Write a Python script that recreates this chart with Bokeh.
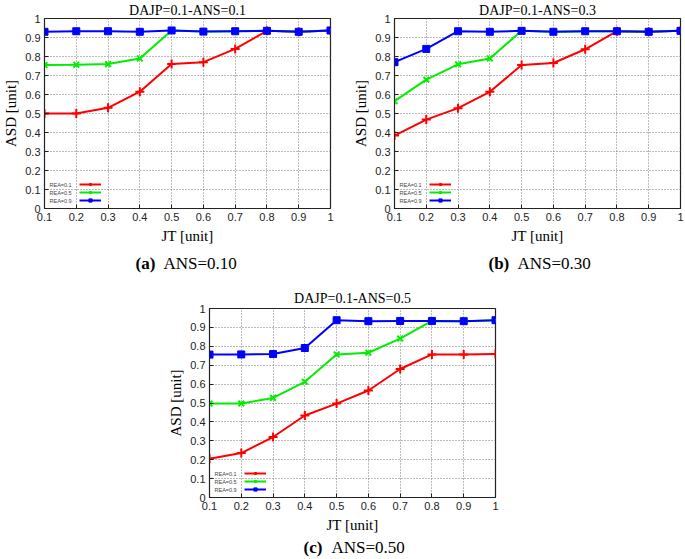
from bokeh.plotting import figure
from bokeh.models import Range1d, FixedTicker, Label, Legend, LegendItem, Spacer
from bokeh.layouts import column, row
from bokeh.core.properties import value
from bokeh.embed import file_html
from bokeh.resources import INLINE

# ---------------- data ----------------
jt = [0.1, 0.2, 0.3, 0.4, 0.5, 0.6, 0.7, 0.8, 0.9, 1.0]
x_ticks = [0.1, 0.2, 0.3, 0.4, 0.5, 0.6, 0.7, 0.8, 0.9, 1.0]
x_tick_labels = ["0.1", "0.2", "0.3", "0.4", "0.5", "0.6", "0.7", "0.8", "0.9", "1"]
y_ticks = [0.0, 0.1, 0.2, 0.3, 0.4, 0.5, 0.6, 0.7, 0.8, 0.9, 1.0]
y_tick_labels = ["0", "0.1", "0.2", "0.3", "0.4", "0.5", "0.6", "0.7", "0.8", "0.9", "1"]

titles = ["DAJP=0.1-ANS=0.1", "DAJP=0.1-ANS=0.3", "DAJP=0.1-ANS=0.5"]
caption_tags = ["(a)", "(b)", "(c)"]
caption_texts = ["ANS=0.10", "ANS=0.30", "ANS=0.50"]
series_names = ["REA=0.1", "REA=0.5", "REA=0.9"]
x_label = "JT [unit]"
y_label = "ASD [unit]"

a_rea01 = [0.50, 0.50, 0.53, 0.615, 0.76, 0.77, 0.84, 0.935, 0.93, 0.937]
a_rea05 = [0.755, 0.757, 0.76, 0.79, 0.937, 0.931, 0.933, 0.935, 0.93, 0.937]
a_rea09 = [0.93, 0.933, 0.933, 0.93, 0.937, 0.931, 0.933, 0.935, 0.93, 0.937]

b_rea01 = [0.384, 0.468, 0.528, 0.614, 0.755, 0.766, 0.838, 0.933, 0.93, 0.935]
b_rea05 = [0.565, 0.678, 0.759, 0.79, 0.935, 0.93, 0.933, 0.933, 0.93, 0.935]
b_rea09 = [0.77, 0.84, 0.933, 0.93, 0.935, 0.93, 0.933, 0.933, 0.93, 0.935]

c_rea01 = [0.205, 0.235, 0.32, 0.434, 0.497, 0.566, 0.68, 0.757, 0.756, 0.759]
c_rea05 = [0.497, 0.497, 0.527, 0.612, 0.757, 0.766, 0.841, 0.934, 0.933, 0.938]
c_rea09 = [0.756, 0.757, 0.759, 0.791, 0.938, 0.933, 0.934, 0.934, 0.933, 0.938]

# ---------------- styles ----------------
COLORS = ["#ff0000", "#00ee00", "#0000ff"]
MARKERS = ["cross", "x", "square"]
MSIZES = [9, 8, 7]
SERIF = "Liberation Serif"
SANS = "Liberation Sans"


def make_panel(title, series, width, height, bl, br, bt, bb, title_standoff):
    p = figure(width=width, height=height, output_backend="svg",
               toolbar_location=None, x_range=Range1d(0.1, 1.0),
               y_range=Range1d(0.0, 1.0),
               min_border_left=bl, min_border_right=br,
               min_border_top=bt, min_border_bottom=bb,
               title=title)
    p.title.text_font = SERIF
    p.title.text_font_size = "14px"
    p.title.text_font_style = "normal"
    p.title.text_color = "black"
    p.title.align = "center"
    p.title.standoff = title_standoff
    p.background_fill_color = "white"
    p.border_fill_color = "white"
    p.outline_line_color = "#222222"
    p.outline_line_width = 1.2

    p.xaxis.ticker = FixedTicker(ticks=x_ticks, minor_ticks=[])
    p.yaxis.ticker = FixedTicker(ticks=y_ticks, minor_ticks=[])
    p.xaxis.major_label_overrides = dict(zip(x_ticks, x_tick_labels))
    p.yaxis.major_label_overrides = dict(zip(y_ticks, y_tick_labels))
    p.xaxis.axis_label = x_label
    p.yaxis.axis_label = y_label
    for ax in (p.xaxis, p.yaxis):
        ax.major_tick_in = 4
        ax.major_tick_out = 0
        ax.minor_tick_line_color = None
        ax.axis_line_color = "#222222"
        ax.major_tick_line_color = "#222222"
        ax.major_label_text_font = SANS
        ax.major_label_text_font_size = "11px"
        ax.major_label_text_color = "#222222"
        ax.major_label_standoff = 4
        ax.axis_label_text_font = SERIF
        ax.axis_label_text_font_size = "15px"
        ax.axis_label_text_font_style = "normal"
        ax.axis_label_text_color = "black"
    p.xaxis.axis_label_standoff = 4
    p.yaxis.axis_label_standoff = 3

    p.grid.grid_line_color = "#777777"
    p.grid.grid_line_dash = "1 2"
    p.grid.grid_line_width = 1
    p.xgrid.ticker = FixedTicker(ticks=x_ticks)
    p.ygrid.ticker = FixedTicker(ticks=y_ticks)

    items = []
    for name, ys, col, mk, ms in zip(series_names, series, COLORS, MARKERS, MSIZES):
        r_line = p.line(jt, ys, line_color=col, line_width=2)
        if mk == "square":
            r_pt = p.scatter(jt, ys, marker=mk, size=ms, fill_color=col,
                             line_color=col, line_width=1)
        else:
            r_pt = p.scatter(jt, ys, marker=mk, size=ms, line_color=col,
                             line_width=2)
        items.append(LegendItem(label=name, renderers=[r_line, r_pt]))

    leg = Legend(items=items, location=(35, 4), orientation="vertical",
                 padding=0, margin=0, spacing=0, glyph_height=8, glyph_width=22,
                 label_height=8, label_width=0, label_standoff=0,
                 label_text_font_size="5px", label_text_alpha=0,
                 background_fill_alpha=0, border_line_alpha=0)
    p.add_layout(leg)

    for i, name in enumerate(series_names):
        p.add_layout(Label(x=0.1, y=0.0, x_offset=5, y_offset=8 + (2 - i) * 8,
                           text=name, text_font=SANS, text_font_size="5.5px",
                           text_color="#444444", text_baseline="middle",
                           text_align="left"))
    return p


def make_caption(width, height, entries):
    c = figure(width=width, height=height, output_backend="svg",
               toolbar_location=None, x_range=Range1d(0, width),
               y_range=Range1d(0, height), min_border=0)
    c.axis.visible = False
    c.grid.visible = False
    c.outline_line_color = None
    c.background_fill_color = "white"
    c.border_fill_color = "white"
    for tag, txt, x_tag, x_txt, yc in entries:
        c.text(x=[x_tag], y=[yc], text=[tag], text_font=value(SERIF),
               text_font_size="17px", text_font_style="bold", text_color="black",
               text_align="left", text_baseline="middle")
        c.text(x=[x_txt], y=[yc], text=[txt], text_font=value(SERIF),
               text_font_size="17px", text_color="black",
               text_align="left", text_baseline="middle")
    return c


p1 = make_panel(titles[0], [a_rea01, a_rea05, a_rea09], 340, 250, 43, 10, 18, 42, 1)
p2 = make_panel(titles[1], [b_rea01, b_rea05, b_rea09], 345, 250, 54, 5, 18, 42, 1)
p3 = make_panel(titles[2], [c_rea01, c_rea05, c_rea09], 355, 260, 43, 25, 33, 38, 6)

cap1 = make_caption(685, 25, [(caption_tags[0], caption_texts[0], 135, 163, 12),
                              (caption_tags[1], caption_texts[1], 488, 517, 12)])
cap2 = make_caption(685, 23, [(caption_tags[2], caption_texts[2], 303, 331, 11)])

layout = column(row(p1, p2), cap1,
                row(Spacer(width=165, height=260), p3), cap2)

open("out.html", "w").write(file_html(layout, INLINE))
